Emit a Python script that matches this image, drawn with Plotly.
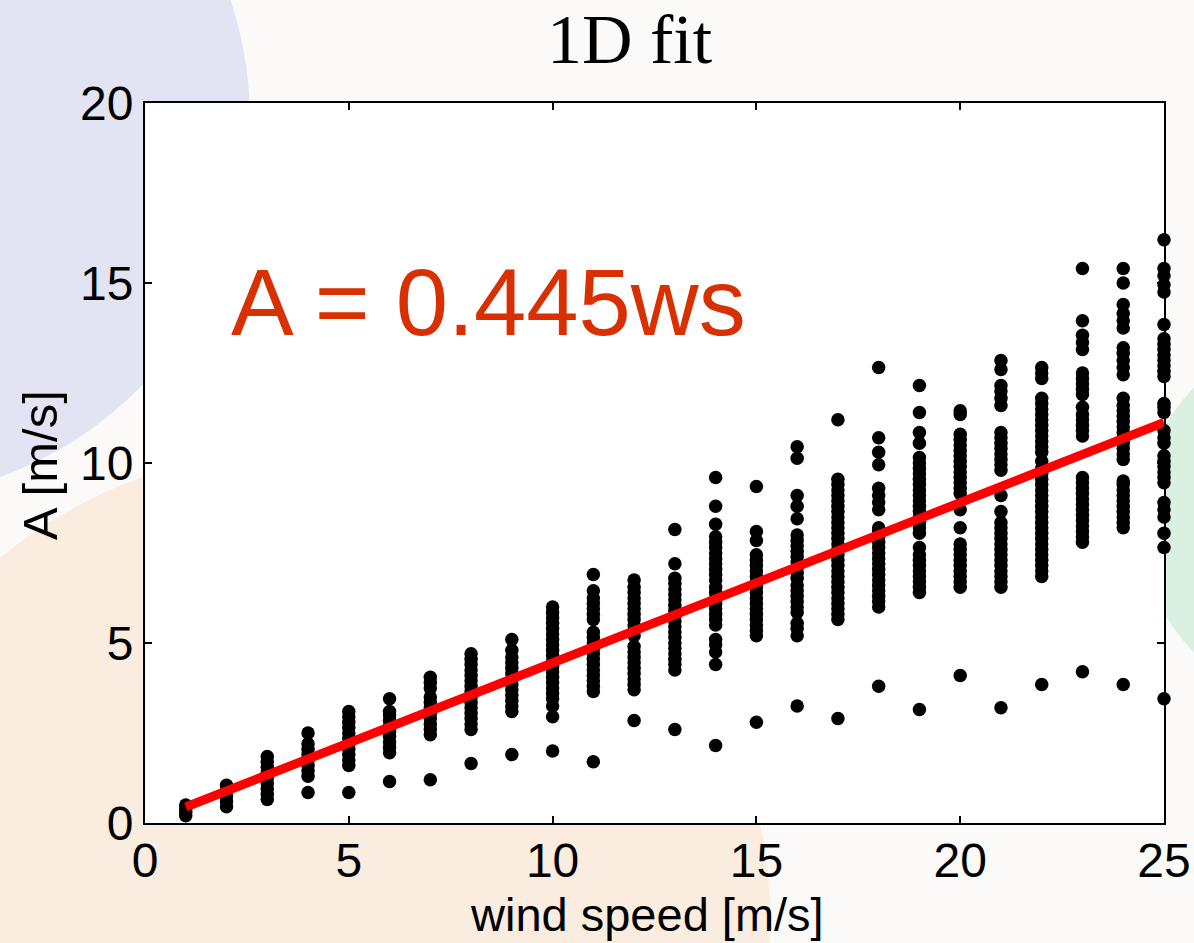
import plotly.graph_objects as go

# ---------------- data ----------------
wind_speeds = list(range(1, 26))

c01 = [0.2, 0.3, 0.4, 0.5]
c02 = [0.45, 0.6, 0.75, 0.9, 1.05]
c03 = [0.65, 0.8, 0.95, 1.1, 1.25, 1.4, 1.55, 1.7, 1.85]
c04 = [0.85, 1.3, 1.45, 1.6, 1.75, 1.9, 2.05, 2.2, 2.5]
c05 = [0.85, 1.6, 1.75, 1.9, 2.05, 2.2, 2.35, 2.5, 2.65, 2.8, 2.95, 3.1]
c06 = [1.15, 1.95, 2.1, 2.25, 2.4, 2.55, 2.7, 2.85, 3.0, 3.1, 3.45]
c07 = [1.2, 2.45, 2.6, 2.75, 2.9, 3.05, 3.2, 3.35, 3.5, 3.75, 3.9, 4.05]
c08 = [1.65, 2.6, 2.75, 2.9, 3.05, 3.2, 3.35, 3.5, 3.65, 3.8, 3.95, 4.1, 4.25, 4.4, 4.55, 4.7]
c09 = [1.9, 3.1, 3.25, 3.4, 3.55, 3.7, 3.85, 4.0, 4.15, 4.3, 4.45, 4.6, 4.8, 5.1]
c10 = [2.0, 2.95, 3.25, 3.45, 3.6, 3.75, 3.9, 4.05, 4.2, 4.35, 4.5, 4.65, 4.8, 4.95,
       5.1, 5.25, 5.4, 5.55, 5.7, 5.85, 6.0]
c11 = [1.7, 3.65, 3.8, 3.95, 4.1, 4.25, 4.4, 4.55, 4.7, 4.85, 5.0, 5.15, 5.3, 5.65,
       5.8, 5.95, 6.1, 6.25, 6.45, 6.9]
c12 = [2.85, 3.7, 3.85, 4.0, 4.15, 4.3, 4.45, 4.6, 4.75, 4.9, 5.2, 5.35, 5.5, 5.65,
       5.8, 5.95, 6.1, 6.25, 6.4, 6.55, 6.75]
c13 = [2.6, 4.25, 4.4, 4.55, 4.7, 4.85, 5.0, 5.15, 5.3, 5.45, 5.6, 5.75, 5.9, 6.05,
       6.2, 6.35, 6.5, 6.65, 6.8, 7.2, 8.15]
c14 = [2.15, 4.4, 4.75, 4.95, 5.1, 5.5, 5.65, 5.8, 5.95, 6.1, 6.25, 6.4, 6.55, 6.75,
       6.9, 7.05, 7.2, 7.35, 7.5, 7.65, 7.8, 7.95, 8.3, 8.8, 9.6]
c15 = [2.8, 5.2, 5.35, 5.5, 5.65, 5.8, 5.95, 6.1, 6.25, 6.4, 6.55, 6.7, 6.85, 7.0,
       7.15, 7.3, 7.45, 7.85, 8.1, 9.35]
c16 = [3.25, 5.2, 5.4, 5.55, 5.85, 6.0, 6.15, 6.3, 6.45, 6.6, 6.8, 6.95, 7.1, 7.25,
       7.4, 7.55, 7.7, 7.85, 8.0, 8.45, 8.8, 9.1, 10.13, 10.45]
c17 = [2.9, 5.65, 5.8, 5.95, 6.1, 6.25, 6.4, 6.55, 6.7, 6.85, 7.0, 7.15, 7.3, 7.45,
       7.6, 7.75, 7.9, 8.05, 8.2, 8.35, 8.5, 8.65, 8.8, 8.95, 9.1, 9.25, 9.4, 9.55, 11.2]
c18 = [3.8, 6.0, 6.15, 6.3, 6.45, 6.6, 6.75, 6.9, 7.05, 7.2, 7.35, 7.5, 7.65, 7.8,
       7.95, 8.1, 8.2, 8.7, 8.9, 9.1, 9.3, 9.95, 10.3, 10.7, 12.65]
c19 = [3.15, 6.4, 6.55, 6.7, 6.85, 7.0, 7.15, 7.3, 7.45, 7.65, 8.05, 8.2, 8.35, 8.5,
       8.65, 8.8, 8.95, 9.1, 9.25, 9.4, 9.55, 9.7, 9.85, 10.0, 10.15, 10.55, 10.85,
       11.4, 12.15]
c20 = [4.1, 6.55, 6.7, 6.85, 7.0, 7.15, 7.3, 7.45, 7.6, 7.75, 8.2, 8.7, 9.15, 9.3,
       9.45, 9.6, 9.75, 9.9, 10.05, 10.2, 10.35, 10.5, 10.65, 10.8, 11.35, 11.45]
c21 = [3.2, 6.55, 6.7, 6.85, 7.0, 7.15, 7.3, 7.45, 7.6, 7.75, 7.9, 8.05, 8.2, 8.35,
       8.65, 9.1, 9.8, 9.95, 10.1, 10.25, 10.4, 10.55, 10.7, 10.85, 11.6, 11.8, 12.0,
       12.15, 12.6, 12.85]
c22 = [3.85, 6.85, 7.0, 7.15, 7.3, 7.45, 7.6, 7.75, 7.9, 8.05, 8.2, 8.35, 8.5, 8.65,
       8.8, 8.95, 9.1, 9.25, 9.4, 9.55, 9.7, 9.85, 10.05, 10.3, 10.45, 10.6, 10.75,
       10.9, 11.05, 11.2, 11.35, 11.5, 11.65, 11.8, 12.35, 12.5, 12.65]
c23 = [4.2, 7.8, 7.95, 8.1, 8.25, 8.4, 8.55, 8.7, 8.85, 9.0, 9.15, 9.3, 9.45, 9.6,
       10.75, 10.9, 11.05, 11.2, 11.35, 11.55, 11.9, 12.05, 12.2, 12.35, 12.5, 13.15,
       13.35, 13.55, 13.95, 15.4]
c24 = [3.85, 8.2, 8.35, 8.5, 8.65, 8.8, 8.95, 9.1, 9.25, 9.4, 9.5, 10.1, 10.25, 10.4,
       10.55, 10.7, 10.85, 11.0, 11.15, 11.3, 11.45, 11.6, 11.8, 12.45, 12.65, 12.85,
       13.05, 13.2, 13.75, 13.95, 14.15, 14.4, 15.0, 15.4]
c25 = [3.45, 7.65, 8.05, 8.5, 8.7, 8.9, 9.45, 9.6, 9.75, 9.9, 10.05, 10.2, 10.55, 10.7,
       10.9, 11.4, 11.55, 11.65, 12.4, 12.55, 12.7, 12.85, 13.0, 13.15, 13.3, 13.45,
       13.85, 14.75, 14.95, 15.2, 15.4, 16.2]

columns = [c01, c02, c03, c04, c05, c06, c07, c08, c09, c10, c11, c12, c13,
           c14, c15, c16, c17, c18, c19, c20, c21, c22, c23, c24, c25]

fit_ws = [1, 25]
fit_A = [0.445, 11.125]

x_ticks = [0, 5, 10, 15, 20, 25]
y_ticks = [0, 5, 10, 15, 20]

title_text = "1D fit"
fit_label = "A = 0.445ws"
x_label = "wind speed [m/s]"
y_label = "A [m/s]"

# ---------------- build ----------------
scatter_x, scatter_y = [], []
for ws, vals in zip(wind_speeds, columns):
    scatter_x.extend([ws] * len(vals))
    scatter_y.extend(vals)

fig = go.Figure()
fig.add_trace(go.Scatter(
    x=scatter_x, y=scatter_y, mode="markers",
    marker=dict(color="black", size=13.5, line=dict(width=0)),
    cliponaxis=False, showlegend=False, hoverinfo="skip"))
fig.add_trace(go.Scatter(
    x=fit_ws, y=fit_A, mode="lines",
    line=dict(color="#FF0000", width=9),
    cliponaxis=False, showlegend=False, hoverinfo="skip"))

W, H = 1194, 943
L, R, T, B = 145, 1164, 103, 823


def px(xp):
    return (xp - L) / (R - L)


def py(yp):
    return (B - yp) / (B - T)


shapes = [
    # faded slide decorations
    dict(type="circle", xref="paper", yref="paper", layer="below",
         x0=px(300 - 470), x1=px(300 + 470), y0=py(920 + 470), y1=py(920 - 470),
         fillcolor="rgba(250,222,196,0.5)", line=dict(width=0)),
    dict(type="circle", xref="paper", yref="paper", layer="below",
         x0=px(-130 - 380), x1=px(-130 + 380), y0=py(120 + 380), y1=py(120 - 380),
         fillcolor="rgba(205,210,240,0.55)", line=dict(width=0)),
    dict(type="circle", xref="paper", yref="paper", layer="below",
         x0=px(1330 - 190), x1=px(1330 + 190), y0=py(520 + 190), y1=py(520 - 190),
         fillcolor="rgba(210,238,218,0.8)", line=dict(width=0)),
    # white plot area
    dict(type="rect", xref="paper", yref="paper", layer="below",
         x0=0, x1=1, y0=0, y1=1, fillcolor="white", line=dict(width=0)),
]

axis_common = dict(
    showgrid=False, zeroline=False, showline=True, linecolor="black", linewidth=2,
    mirror="ticks", ticks="inside", ticklen=7, tickwidth=2, tickcolor="black",
    automargin=False,
    tickfont=dict(family="Liberation Sans, Arial", size=48, color="black"),
)

fig.update_layout(
    width=W, height=H,
    margin=dict(l=L, r=W - R, t=T, b=H - B, autoexpand=False),
    paper_bgcolor="#fbfaf8", plot_bgcolor="rgba(0,0,0,0)",
    shapes=shapes,
    xaxis=dict(range=[0, 25], tickvals=x_ticks, ticktext=[str(v) for v in x_ticks],
               ticklabelstandoff=-6, **axis_common),
    yaxis=dict(range=[0, 20], tickvals=y_ticks, ticktext=[str(v) for v in y_ticks],
               **axis_common),
    annotations=[
        dict(text=title_text, xref="paper", yref="paper", x=px(630), y=py(39),
             xanchor="center", yanchor="middle", showarrow=False,
             font=dict(family="Liberation Serif, Times New Roman", size=70, color="black")),
        dict(text=fit_label, xref="x", yref="y", x=8.42, y=14.45,
             xanchor="center", yanchor="middle", showarrow=False,
             font=dict(family="Liberation Sans, Arial", size=94, color="#D83000")),
        dict(text=x_label, xref="paper", yref="paper", x=px(647), y=py(914),
             xanchor="center", yanchor="middle", showarrow=False,
             font=dict(family="Liberation Sans, Arial", size=47, color="black")),
        dict(text=y_label, xref="paper", yref="paper", x=px(40), y=py(465),
             xanchor="center", yanchor="middle", showarrow=False, textangle=-90,
             font=dict(family="Liberation Sans, Arial", size=49, color="black")),
    ],
)

fig.write_html("out.html")
